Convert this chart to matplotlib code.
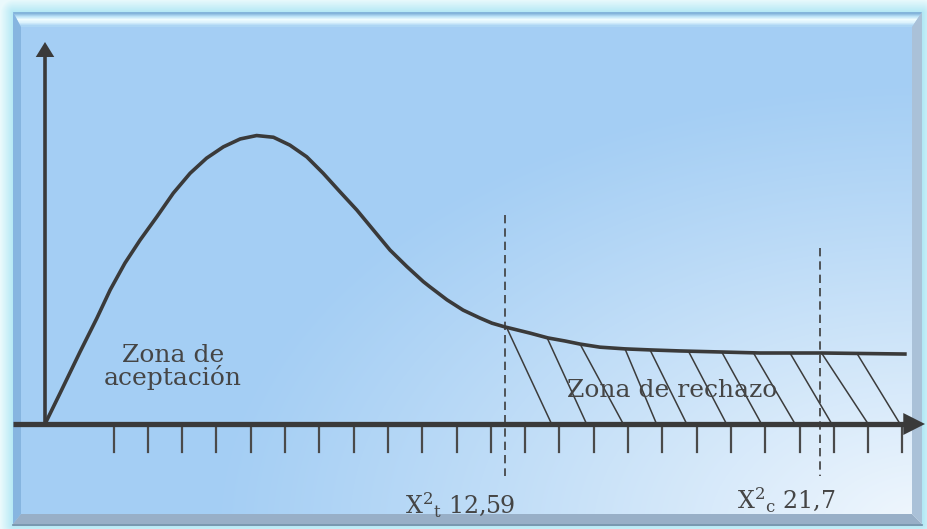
import numpy as np
import matplotlib.pyplot as plt
from matplotlib.patches import Polygon

# ------------------------------------------------------------
# datos (unidades: una division del eje x)

curva_x = [0.0, 0.44, 1.02, 1.51, 1.90, 2.33, 2.77, 3.26, 3.74, 4.23, 4.71,
           5.20, 5.69, 6.17, 6.66, 7.14, 7.63, 8.11, 8.60, 9.09, 9.57,
           10.06, 10.55, 11.03, 11.22, 11.72, 12.19, 12.68, 13.03, 13.41,
           14.14, 14.66, 15.16, 15.60, 16.18, 16.91, 17.64, 18.51, 19.68,
           20.85, 22.65, 25.07]
curva_y = [0.0, 0.90, 2.10, 3.08, 3.91, 4.69, 5.36, 6.04, 6.73, 7.31, 7.75,
           8.08, 8.31, 8.41, 8.36, 8.13, 7.79, 7.31, 6.77, 6.24, 5.66,
           5.07, 4.59, 4.15, 4.00, 3.62, 3.32, 3.09, 2.94, 2.83,
           2.65, 2.51, 2.42, 2.33, 2.24, 2.19, 2.16, 2.13, 2.10,
           2.07, 2.07, 2.04]

ticks_x = list(range(2, 26))

# rayado de la zona de rechazo
rayas_x_sup = [13.46, 14.64, 15.60, 16.91, 17.64, 18.76, 19.73, 20.65, 21.72, 22.64, 23.67]
rayas_y_sup = [2.81, 2.51, 2.33, 2.19, 2.16, 2.12, 2.10, 2.08, 2.07, 2.07, 2.06]
rayas_x_inf = [14.77, 15.79, 16.86, 17.83, 18.71, 19.87, 20.89, 21.87, 22.94, 24.00, 24.93]

# valores criticos (posicion en el dibujo y etiqueta)
chi_pos = [13.41, 22.59]
chi_top = [6.09, 5.13]
chi_sub = ['t', 'c']
chi_val = ['12,59', '21,7']

# ------------------------------------------------------------
W, H = 927, 529
S = 34.3          # pixeles por unidad
X0, Y0 = 45, 424  # origen en pixeles

def fr(px, py):
    # pixel -> fraccion de ejes
    return px / W, 1 - py / H

plt.rcParams['mathtext.fontset'] = 'dejavuserif'

fig = plt.figure(figsize=(W / 100, H / 100), dpi=100)
fig.patch.set_facecolor('#c4edf7')
ax = fig.add_axes([0, 0, 1, 1])
ax.axis('off')

# halo exterior
yy, xx = np.mgrid[0:H, 0:W]
dx = np.maximum(np.maximum(13 - xx, xx - 922), 0)
dy = np.maximum(np.maximum(12 - yy, yy - 524), 0)
d = np.clip(np.hypot(dx, dy) / 13.0, 0, 1)[..., None]
c_in = np.array([0.70, 0.91, 0.96])
c_out = np.array([0.92, 0.98, 0.99])
halo = c_in * (1 - d) + c_out * d
ax.imshow(halo, extent=(0, 1, 0, 1), transform=ax.transAxes, aspect='auto',
          interpolation='bilinear', zorder=0)

# fondo del panel (degradado hacia blanco abajo a la derecha)
px0, px1, py0, py1 = 13, 922, 12, 524
yy, xx = np.mgrid[py0:py1, px0:px1]
r = np.hypot((W - xx) / 720.0, (H - yy) / 450.0)
w = (np.clip(1 - r, 0, 1) ** 1.1 * 0.85)[..., None]
base = np.array([164, 206, 244]) / 255.0
fondo = base * (1 - w) + 1.0 * w
l, b = fr(px0, py1)
rr, t = fr(px1, py0)
ax.imshow(fondo, extent=(l, rr, b, t), transform=ax.transAxes, aspect='auto',
          interpolation='bilinear', zorder=1)

# biseles del marco
def bisel(pts, color):
    p = Polygon([fr(*q) for q in pts], closed=True, transform=ax.transAxes,
                facecolor=color, edgecolor='none', zorder=2)
    ax.add_patch(p)
    return p

top_poly = bisel([(13, 12), (922, 12), (912, 27), (21, 27)], 'none')
g = np.array([[0.52, 0.71, 0.86], [0.74, 0.89, 0.97], [0.94, 0.99, 1.0],
              [0.86, 0.95, 0.99], [0.68, 0.84, 0.96]])[:, None, :]
l, b = fr(13, 27)
rr, t = fr(922, 12)
im = ax.imshow(g, extent=(l, rr, b, t), transform=ax.transAxes, aspect='auto',
               interpolation='bilinear', zorder=2)
im.set_clip_path(top_poly)
bisel([(13, 12), (21, 27), (21, 514), (13, 524)], '#86b5e0')
bisel([(13, 524), (21, 514), (912, 514), (922, 524)], '#98afc7')
bisel([(922, 12), (912, 27), (912, 514), (922, 524)], '#aac1d8')
ax.plot([13 / W, 922 / W], [1 - 524.5 / H] * 2, transform=ax.transAxes,
        color='#6f88a3', lw=1.2, zorder=2)

# ------------------------------------------------------------
# ejes del dibujo
gris = '#3a3a3a'
x_ini = (13 - X0) / S
x_fin = (905 - X0) / S
x_tip = (925 - X0) / S
ax.plot([x_ini, x_fin], [0, 0], color=gris, lw=3.8, solid_capstyle='butt', zorder=5)
ax.fill([x_fin - 0.05, x_tip, x_fin - 0.05], [0.32, 0, -0.32], color=gris, lw=0, zorder=5)

y_fin = (424 - 57) / S
y_tip = (424 - 42) / S
ax.plot([0, 0], [0, y_fin], color=gris, lw=2.6, solid_capstyle='butt', zorder=5)
ax.fill([-0.27, 0, 0.27], [y_fin, y_tip, y_fin], color=gris, lw=0, zorder=5)

for tx in ticks_x:
    ax.plot([tx, tx], [0, -0.82], color='#4a4a4a', lw=1.6, zorder=4)

# curva
ax.plot(curva_x, curva_y, color=gris, lw=2.6, solid_joinstyle='round', zorder=5)

# rayado
for xs, ys, xi in zip(rayas_x_sup, rayas_y_sup, rayas_x_inf):
    ax.plot([xs, xi], [ys, 0], color='#3c3c3c', lw=1.1, zorder=4)

# lineas criticas
for xp, yt in zip(chi_pos, chi_top):
    ax.plot([xp, xp], [yt, -1.52], color='#3c3c3c', lw=1.2, dashes=(5, 3), zorder=4)

# textos
txt = dict(family='DejaVu Serif', color='#454545', zorder=6)
ax.text(3.75, 1.81, 'Zona de', fontsize=18, ha='center', va='baseline', **txt)
ax.text(3.73, 1.14, 'aceptación', fontsize=18, ha='center', va='baseline', **txt)
ax.text(18.28, 0.79, 'Zona de rechazo', fontsize=18, ha='center', va='baseline', **txt)

etq_x = [10.50, 20.17]
etq_y = [-2.62, -2.48]
for xe, ye, s, v in zip(etq_x, etq_y, chi_sub, chi_val):
    ax.text(xe, ye, r'X$^{\mathrm{2}}{}_{\mathrm{%s}}$ %s' % (s, v), fontsize=17,
            ha='left', va='baseline', **txt)

ax.set_xlim(-X0 / S, (W - X0) / S)
ax.set_ylim((Y0 - H) / S, Y0 / S)

fig.savefig('out.png', dpi=100, facecolor=fig.get_facecolor())
